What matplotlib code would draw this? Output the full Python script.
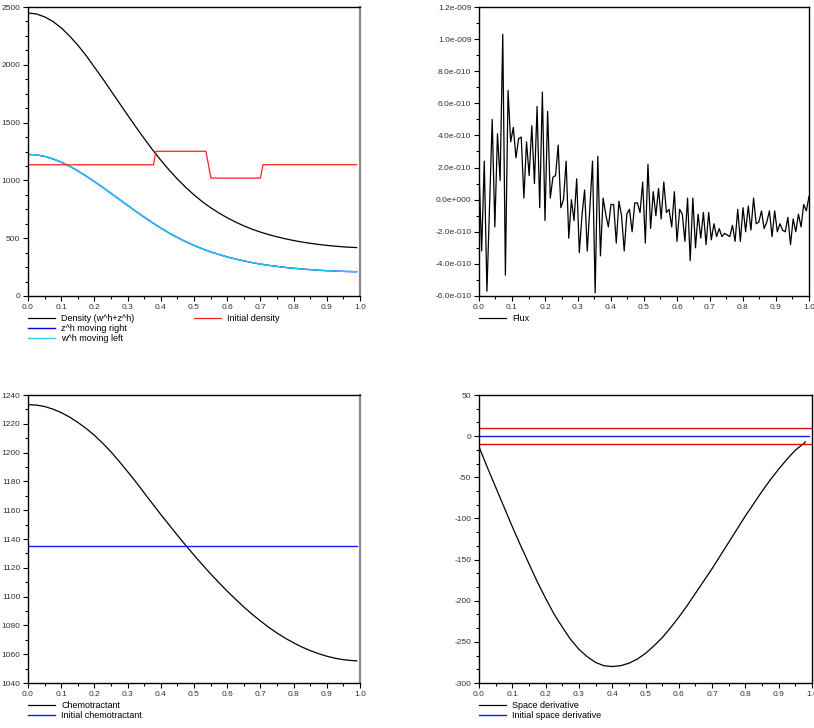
import numpy as np
import matplotlib.pyplot as plt
from matplotlib.ticker import MultipleLocator, AutoMinorLocator, FuncFormatter

plt.rcParams['font.family'] = ['Liberation Sans', 'DejaVu Sans']

# shared spatial grid for the smooth curves
x_grid = [0.0, 0.025, 0.05, 0.075, 0.1, 0.125, 0.15, 0.175, 0.2, 0.225,
          0.25, 0.275, 0.3, 0.325, 0.35, 0.375, 0.4, 0.425, 0.45, 0.475,
          0.5, 0.525, 0.55, 0.575, 0.6, 0.625, 0.65, 0.675, 0.7, 0.725,
          0.75, 0.775, 0.8, 0.825, 0.85, 0.875, 0.9, 0.925, 0.95, 0.975, 0.99]

# top left: densities
density = [2448, 2440, 2415, 2375, 2320, 2250, 2170, 2080, 1980, 1880,
           1775, 1670, 1565, 1462, 1362, 1265, 1175, 1090, 1012, 940,
           875, 816, 764, 718, 677, 640, 607, 578, 553, 531,
           512, 495, 480, 467, 456, 446, 438, 431, 425, 421, 419]
z_right = [1225, 1221, 1208, 1186, 1158, 1123, 1083, 1038, 990, 940,
           888, 836, 784, 732, 682, 634, 588, 545, 506, 470,
           438, 408, 382, 359, 338, 320, 304, 289, 276, 265,
           256, 247, 240, 234, 228, 223, 219, 216, 213, 211, 210]
w_left = [1225, 1221, 1208, 1186, 1158, 1123, 1083, 1038, 990, 940,
          888, 836, 784, 732, 682, 634, 588, 545, 506, 470,
          438, 408, 382, 359, 338, 320, 304, 289, 276, 265,
          256, 247, 240, 234, 228, 223, 219, 216, 213, 211, 210]
init_x = [0.0, 0.378, 0.385, 0.536, 0.551, 0.700, 0.708, 0.99]
init_density = [1135, 1135, 1252, 1252, 1020, 1020, 1136, 1136]

# top right: flux (units of 1e-10)
flux_step = 0.008
flux = [1.8, -3.2, 2.4, -5.7, -0.4, 5.0, -1.7, 4.1, 1.2, 10.3,
        -4.7, 6.8, 3.6, 4.5, 2.6, 3.8, 3.9, 0.1, 3.6, 1.5,
        4.6, 1.0, 5.8, -0.5, 6.7, -1.3, 5.5, 0.1, 1.4, 1.5,
        3.4, -0.5, 0.0, 2.4, -2.4, 0.0, -1.3, 1.3, -3.3, -1.0,
        0.6, -3.2, -0.5, 2.4, -5.8, 2.7, -3.5, 0.1, -0.9, -1.7,
        -0.3, -0.3, -2.7, -0.1, -1.0, -3.2, -0.9, -0.6, -2.0, -0.2,
        -0.2, -0.8, 1.1, -2.7, 2.2, -1.8, 0.5, -1.0, 0.7, -1.2,
        1.1, -0.8, -0.6, -1.7, 0.5, -2.6, -0.6, -0.9, -2.6, 0.1,
        -3.8, 0.1, -3.0, -0.9, -2.4, -0.8, -2.8, -0.8, -2.5, -1.5,
        -2.3, -1.8, -2.3, -2.1, -2.2, -2.3, -1.6, -2.6, -0.6, -2.6,
        -0.5, -2.0, -0.4, -1.9, 0.1, -1.5, -1.4, -0.7, -1.8, -1.4,
        -0.7, -2.3, -0.7, -2.0, -1.5, -1.9, -2.0, -1.1, -2.8, -1.2,
        -2.0, -0.9, -1.7, -0.3, -0.7, 0.2]

# bottom left: chemotractant
chemo = [1233.3, 1233.0, 1232.0, 1230.2, 1227.8, 1224.7, 1221.0, 1216.8, 1212.0, 1206.5,
         1200.5, 1193.8, 1186.8, 1179.6, 1172.0, 1164.5, 1157.0, 1149.8, 1142.6, 1135.6,
         1128.8, 1122.2, 1115.8, 1109.7, 1103.8, 1098.2, 1092.8, 1087.8, 1083.1, 1078.7,
         1074.7, 1071.1, 1067.9, 1065.0, 1062.5, 1060.4, 1058.6, 1057.2, 1056.2, 1055.6, 1055.4]
init_chemo = 1135

# bottom right: space derivative
deriv_x = [0.0, 0.025, 0.05, 0.075, 0.1, 0.125, 0.15, 0.175, 0.2, 0.225,
           0.25, 0.275, 0.3, 0.325, 0.35, 0.375, 0.4, 0.425, 0.45, 0.475,
           0.5, 0.525, 0.55, 0.575, 0.6, 0.625, 0.65, 0.675, 0.7, 0.725,
           0.75, 0.775, 0.8, 0.825, 0.85, 0.875, 0.9, 0.925, 0.95, 0.975, 0.98]
deriv = [-13, -38, -62, -86, -110, -133, -155, -177, -197, -216,
         -232, -247, -259, -268, -275, -279, -280, -279, -276, -271,
         -264, -255, -245, -233, -220, -206, -191, -176, -161, -145,
         -129, -113, -97, -82, -67, -53, -40, -28, -17, -9, -7]
init_deriv = 0
bounds = [10, -10]

W, H = 814, 728
fig = plt.figure(figsize=(W / 100, H / 100), dpi=100)


def box(l, t, r, b):
    return [l / W, 1 - b / H, (r - l) / W, (b - t) / H]


ax1 = fig.add_axes(box(28, 7, 360, 296))
ax2 = fig.add_axes(box(479, 7, 809, 296))
ax3 = fig.add_axes(box(28, 395, 360, 683))
ax4 = fig.add_axes(box(479, 395, 812, 683))


def style(ax, ymin, ymax, ymajor, yminor_n, gray_right=False):
    ax.set_xlim(0, 1)
    ax.set_ylim(ymin, ymax)
    ax.xaxis.set_major_locator(MultipleLocator(0.1))
    ax.xaxis.set_minor_locator(MultipleLocator(0.05))
    ax.xaxis.set_major_formatter(FuncFormatter(lambda v, p: f"{v:.1f}"))
    ax.yaxis.set_major_locator(MultipleLocator(ymajor))
    ax.yaxis.set_minor_locator(AutoMinorLocator(yminor_n))
    ax.tick_params(which='both', direction='out', labelsize=6,
                   labelcolor='#333333', width=0.8, pad=2)
    ax.tick_params(which='major', length=3.5)
    ax.tick_params(which='minor', length=2)
    for s in ax.spines.values():
        s.set_linewidth(1.0)
        s.set_color('black')
    if gray_right:
        ax.spines['right'].set_color('#8a8a8a')
        ax.spines['right'].set_linewidth(1.6)


leg_kw = dict(loc='upper left', frameon=False, fontsize=6.5, handlelength=3,
              handletextpad=0.7, labelspacing=0.12, borderpad=0,
              borderaxespad=0)

# top left
l_dens, = ax1.plot(x_grid, density, color='black', lw=0.9)
l_z, = ax1.plot(x_grid, z_right, color='#0000ee', lw=1.0)
l_w, = ax1.plot(x_grid, w_left, color='#22ccee', lw=1.0)
l_init, = ax1.plot(init_x, init_density, color='#ff2020', lw=0.9)
style(ax1, 0, 2500, 500, 4, gray_right=True)
ax1.yaxis.set_major_formatter(FuncFormatter(lambda v, p: f"{v:.0f}"))
leg1 = ax1.legend([l_dens, l_z, l_w],
                  ['Density (w^h+z^h)', 'z^h moving right', 'w^h moving left'],
                  bbox_to_anchor=(0, -0.062), **leg_kw)
ax1.add_artist(leg1)
ax1.legend([l_init], ['Initial density'], bbox_to_anchor=(0.5, -0.062), **leg_kw)


# top right
def sci3(v, p):
    if abs(v) < 1e-20:
        return "0.0e+000"
    e = int(np.floor(np.log10(abs(v))))
    m = v / 10 ** e
    if round(abs(m), 1) >= 10:
        m /= 10
        e += 1
    return f"{m:.1f}e{'-' if e < 0 else '+'}{abs(e):03d}"


flux_x = np.arange(len(flux)) * flux_step
l_flux, = ax2.plot(flux_x, np.array(flux) * 1e-10, color='black', lw=0.9)
style(ax2, -6e-10, 1.2e-9, 2e-10, 2)
ax2.yaxis.set_major_formatter(FuncFormatter(sci3))
ax2.legend([l_flux], ['Flux'], bbox_to_anchor=(0, -0.062), **leg_kw)

# bottom left
l_chemo, = ax3.plot(x_grid, chemo, color='black', lw=0.9)
l_ichemo = ax3.axhline(init_chemo, xmin=0, xmax=0.99, color='#1a1aee', lw=1.0)
style(ax3, 1040, 1240, 20, 2, gray_right=True)
ax3.yaxis.set_major_formatter(FuncFormatter(lambda v, p: f"{v:.0f}"))
ax3.legend([l_chemo, l_ichemo], ['Chemotractant', 'Initial chemotractant'],
           bbox_to_anchor=(0, -0.062), **leg_kw)

# bottom right
l_deriv, = ax4.plot(deriv_x, deriv, color='black', lw=0.9)
l_ideriv = ax4.axhline(init_deriv, xmin=0, xmax=0.99, color='#1a1aee', lw=1.0)
for b in bounds:
    ax4.axhline(b, color='#e01010', lw=1.0)
style(ax4, -300, 50, 50, 3)
ax4.yaxis.set_major_formatter(FuncFormatter(lambda v, p: f"{v:.0f}"))
ax4.legend([l_deriv, l_ideriv], ['Space derivative', 'Initial space derivative'],
           bbox_to_anchor=(0, -0.062), **leg_kw)

fig.savefig('out.png', dpi=100, facecolor='white')
